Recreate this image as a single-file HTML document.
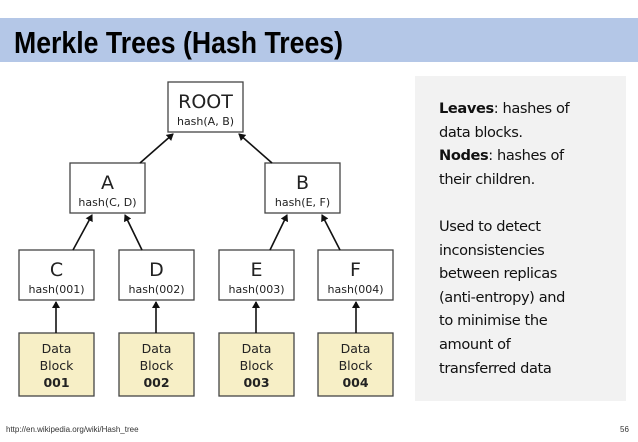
<!DOCTYPE html>
<html><head><meta charset="utf-8"><style>
body{margin:0;width:638px;height:442px;background:#fff;overflow:hidden;position:relative;font-family:"Liberation Sans",sans-serif}
.band{position:absolute;left:0;top:18px;width:638px;height:44px;background:#b4c7e7}
.panel{position:absolute;left:415px;top:76px;width:211px;height:325px;background:#f2f2f2}
.ptxt{position:absolute;left:439px;top:97px;font-size:14.6px;line-height:23.6px;color:#111;font-family:"DejaVu Sans","Liberation Sans",sans-serif;letter-spacing:-0.4px}
.foot{position:absolute;left:6px;top:425px;font-size:8px;color:#333}
.num{position:absolute;left:620px;top:425px;font-size:8px;color:#333}
</style></head><body>
<div class="band"></div>
<svg style="position:absolute;left:0;top:0" width="638" height="442">
<text x="14" y="53" font-family="Liberation Sans Narrow, Liberation Sans, sans-serif" font-weight="bold" font-size="31" textLength="329" lengthAdjust="spacingAndGlyphs" fill="#000">Merkle Trees (Hash Trees)</text>
<defs><marker id="ar" markerWidth="8" markerHeight="8" refX="6" refY="4" orient="auto" markerUnits="userSpaceOnUse"><path d="M0,0 L7,4 L0,8 z" fill="#111"/></marker></defs>
<g stroke="#444" stroke-width="1.3" fill="#fff">
<rect x="168" y="82" width="75" height="50"/>
<rect x="70" y="163" width="75" height="50"/>
<rect x="265" y="163" width="75" height="50"/>
<rect x="19" y="250" width="75" height="50"/>
<rect x="119" y="250" width="75" height="50"/>
<rect x="219" y="250" width="75" height="50"/>
<rect x="318" y="250" width="75" height="50"/>
<g fill="#f7efc6">
<rect x="19" y="333" width="75" height="63"/>
<rect x="119" y="333" width="75" height="63"/>
<rect x="219" y="333" width="75" height="63"/>
<rect x="318" y="333" width="75" height="63"/>
</g></g>
<g stroke="#111" stroke-width="1.6" marker-end="url(#ar)">
<line x1="140" y1="163" x2="173" y2="134"/>
<line x1="272" y1="163" x2="239" y2="134"/>
<line x1="73" y1="250" x2="92" y2="215"/>
<line x1="142" y1="250" x2="125" y2="215"/>
<line x1="270" y1="250" x2="287" y2="215"/>
<line x1="340" y1="250" x2="322" y2="215"/>
<line x1="56" y1="333" x2="56" y2="302"/>
<line x1="156" y1="333" x2="156" y2="302"/>
<line x1="256" y1="333" x2="256" y2="302"/>
<line x1="356" y1="333" x2="356" y2="302"/>
</g>
<g font-family="DejaVu Sans, Liberation Sans, sans-serif" text-anchor="middle" fill="#222">
<text x="205.5" y="108" font-size="19">ROOT</text><text x="205.5" y="125" font-size="11">hash(A, B)</text>
<text x="107.5" y="189" font-size="19">A</text><text x="107.5" y="206" font-size="11">hash(C, D)</text>
<text x="302.5" y="189" font-size="19">B</text><text x="302.5" y="206" font-size="11">hash(E, F)</text>
<text x="56.5" y="276" font-size="19">C</text><text x="56.5" y="293" font-size="11">hash(001)</text>
<text x="156.5" y="276" font-size="19">D</text><text x="156.5" y="293" font-size="11">hash(002)</text>
<text x="256.5" y="276" font-size="19">E</text><text x="256.5" y="293" font-size="11">hash(003)</text>
<text x="355.5" y="276" font-size="19">F</text><text x="355.5" y="293" font-size="11">hash(004)</text>
<g font-size="12.5">
<text x="56.5" y="353">Data</text><text x="56.5" y="370">Block</text><text x="56.5" y="387" font-weight="bold">001</text>
<text x="156.5" y="353">Data</text><text x="156.5" y="370">Block</text><text x="156.5" y="387" font-weight="bold">002</text>
<text x="256.5" y="353">Data</text><text x="256.5" y="370">Block</text><text x="256.5" y="387" font-weight="bold">003</text>
<text x="355.5" y="353">Data</text><text x="355.5" y="370">Block</text><text x="355.5" y="387" font-weight="bold">004</text>
</g></g>
</svg>
<div class="panel"></div>
<div class="ptxt"><b>Leaves</b>: hashes of<br>data blocks.<br><b>Nodes</b>: hashes of<br>their children.<br><br>Used to detect<br>inconsistencies<br>between replicas<br>(anti-entropy) and<br>to minimise the<br>amount of<br>transferred data</div>
<div class="foot">http://en.wikipedia.org/wiki/Hash_tree</div>
<div class="num">56</div>
</body></html>
